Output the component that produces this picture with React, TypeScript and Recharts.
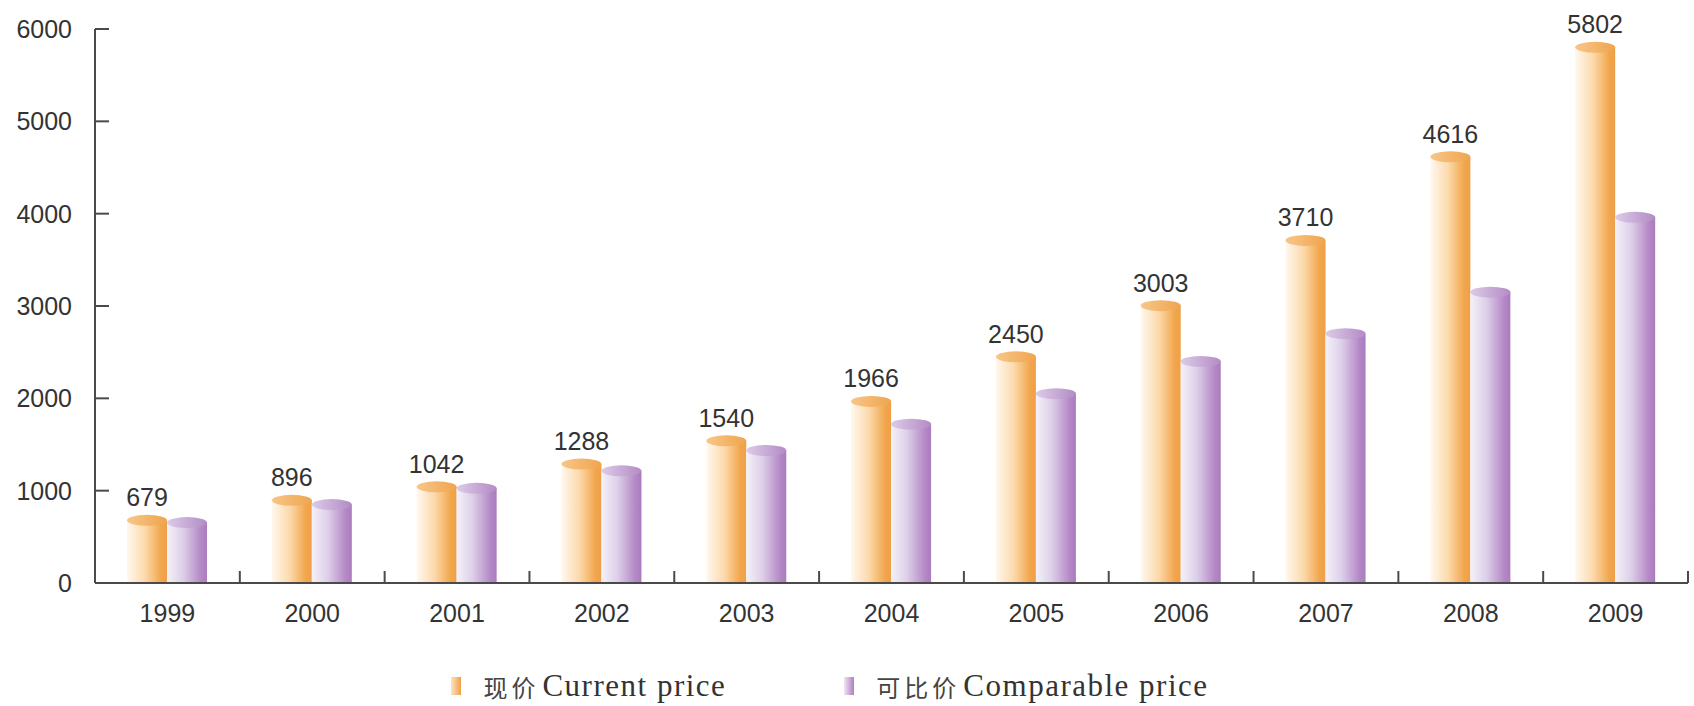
import React from 'react';
import { BarChart, Bar, XAxis, YAxis, Legend, LabelList } from 'recharts';

// 年份 / categories
const years = ['1999', '2000', '2001', '2002', '2003', '2004', '2005', '2006', '2007', '2008', '2009'];
// 现价 Current price (labelled in the picture)
const currentPrice = [679, 896, 1042, 1288, 1540, 1966, 2450, 3003, 3710, 4616, 5802];
// 可比价 Comparable price
const comparablePrice = [655, 850, 1025, 1215, 1435, 1720, 2050, 2400, 2700, 3150, 3960];
const yTicks = [0, 1000, 2000, 3000, 4000, 5000, 6000];
const seriesCn = ['现价', '可比价'];
const seriesEn = ['Current price', 'Comparable price'];

const data = years.map((year, i) => ({
  year,
  current: currentPrice[i],
  comparable: comparablePrice[i],
}));

const AXIS = '#4a4a4a';
const TEXT = '#333333';
const SANS = '"Liberation Sans", Arial, sans-serif';
const Y_TICK_MARGIN = 23;
const Y_TICK_LEN = 14;
const X_TICK_MARGIN = 21;
const X_TICK_LEN = 12;

function Cylinder(props: any) {
  const { x, y, width, height, body, top } = props;
  if (!height || height <= 0) return null;
  const rx = width / 2;
  return (
    <g>
      <rect x={x} y={y} width={width} height={height} fill={`url(#${body})`} />
      <ellipse cx={x + rx} cy={y} rx={rx} ry={5.5} fill={`url(#${top})`} />
    </g>
  );
}

function ValueLabel(props: any) {
  const { x, y, width, value } = props;
  return (
    <text x={x + width / 2} y={y - 14} textAnchor="middle" fill={TEXT} fontSize={25} fontFamily={SANS}>
      {value}
    </text>
  );
}

// y tick: label plus a short inward tick mark on the axis
function YTick(props: any) {
  const { x, y, payload } = props;
  const ax = x + Y_TICK_MARGIN;
  return (
    <g>
      <line x1={ax} x2={ax + Y_TICK_LEN} y1={y} y2={y} stroke={AXIS} strokeWidth={2} />
      <text x={x} y={y} dy="0.36em" textAnchor="end" fill={TEXT} fontSize={25} fontFamily={SANS}>
        {payload.value}
      </text>
    </g>
  );
}

// x tick: year label plus upward tick marks on the band boundaries
function XTick(props: any) {
  const { x, y, payload, width, visibleTicksCount, index } = props;
  const band = width / visibleTicksCount;
  const ay = y - X_TICK_MARGIN;
  const left = x - band / 2;
  const right = x + band / 2;
  return (
    <g>
      {index > 0 && <line x1={left} x2={left} y1={ay} y2={ay - X_TICK_LEN} stroke={AXIS} strokeWidth={2} />}
      {index === visibleTicksCount - 1 && (
        <line x1={right} x2={right} y1={ay} y2={ay - X_TICK_LEN} stroke={AXIS} strokeWidth={2} />
      )}
      <text x={x} y={y} dy="0.71em" textAnchor="middle" fill={TEXT} fontSize={25} fontFamily={SANS}>
        {payload.value}
      </text>
    </g>
  );
}

const legendSwatches = [
  'linear-gradient(to right, #fde3c4, #f0a04a)',
  'linear-gradient(to right, #eee6f3, #b07cc0)',
];

function renderLegend() {
  return (
    <div
      style={{
        display: 'flex',
        justifyContent: 'center',
        alignItems: 'center',
        height: 40,
        paddingRight: 28,
        fontFamily: '"Liberation Serif", "Times New Roman", serif',
        color: TEXT,
      }}
    >
      {seriesEn.map((name, i) => (
        <div key={name} style={{ display: 'flex', alignItems: 'center', marginRight: i === 0 ? 118 : 0 }}>
          <div style={{ width: 10, height: 18, background: legendSwatches[i], marginRight: 22 }} />
          <span style={{ fontFamily: '"Noto Sans CJK SC", sans-serif', fontSize: 24, letterSpacing: 4, color: '#444' }}>
            {seriesCn[i]}
          </span>
          <span style={{ fontSize: 31, letterSpacing: 1.5, marginLeft: 3 }}>{name}</span>
        </div>
      ))}
    </div>
  );
}

export default function App() {
  return (
    <div style={{ position: 'absolute', left: 0, top: 0, background: '#fff' }}>
      <BarChart
        width={1694}
        height={706}
        data={data}
        margin={{ top: 29, right: 6, left: 0, bottom: 0 }}
        barGap={0}
      >
        <defs>
          <linearGradient id="orangeBody" x1="0" y1="0" x2="1" y2="0">
            <stop offset="0%" stopColor="#fff8ef" />
            <stop offset="45%" stopColor="#fcd9ab" />
            <stop offset="85%" stopColor="#f2a64c" />
            <stop offset="100%" stopColor="#eea048" />
          </linearGradient>
          <linearGradient id="orangeTop" x1="0" y1="0" x2="1" y2="0">
            <stop offset="0%" stopColor="#f8c688" />
            <stop offset="100%" stopColor="#efa54e" />
          </linearGradient>
          <linearGradient id="purpleBody" x1="0" y1="0" x2="1" y2="0">
            <stop offset="0%" stopColor="#f4f1f8" />
            <stop offset="40%" stopColor="#ddcfe8" />
            <stop offset="85%" stopColor="#b488c6" />
            <stop offset="100%" stopColor="#aa7cbd" />
          </linearGradient>
          <linearGradient id="purpleTop" x1="0" y1="0" x2="1" y2="0">
            <stop offset="0%" stopColor="#dccbe7" />
            <stop offset="100%" stopColor="#b38bc5" />
          </linearGradient>
        </defs>
        <XAxis
          dataKey="year"
          height={83}
          axisLine={{ stroke: AXIS, strokeWidth: 2 }}
          tickLine={false}
          tickSize={0}
          tickMargin={X_TICK_MARGIN}
          interval={0}
          tick={<XTick />}
        />
        <YAxis
          width={95}
          domain={[0, 6000]}
          ticks={yTicks}
          interval={0}
          tickSize={0}
          tickMargin={Y_TICK_MARGIN}
          tickLine={false}
          axisLine={{ stroke: AXIS, strokeWidth: 2 }}
          tick={<YTick />}
        />
        <Legend verticalAlign="bottom" height={40} content={renderLegend} />
        <Bar
          dataKey="current"
          name={seriesEn[0]}
          barSize={40}
          isAnimationActive={false}
          shape={(p: any) => <Cylinder {...p} body="orangeBody" top="orangeTop" />}
        >
          <LabelList dataKey="current" content={ValueLabel} />
        </Bar>
        <Bar
          dataKey="comparable"
          name={seriesEn[1]}
          barSize={40}
          isAnimationActive={false}
          shape={(p: any) => <Cylinder {...p} body="purpleBody" top="purpleTop" />}
        />
      </BarChart>
    </div>
  );
}
